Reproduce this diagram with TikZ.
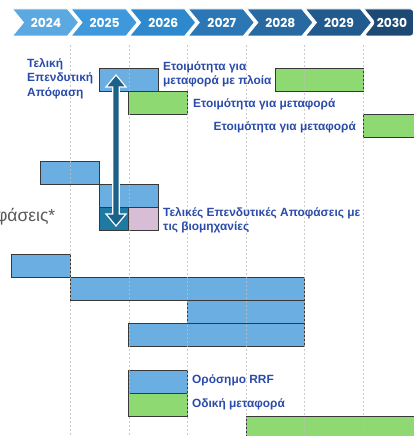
\documentclass[tikz,border=0pt]{standalone}
\usepackage{fontspec}
\setmainfont{Liberation Sans}
\newfontfamily\yearfont{Poppins}
\begin{document}
\begin{tikzpicture}[x=1pt,y=-1pt,
  chev/.style={draw=white,line width=0.8pt},
  year/.style={text=white,font=\yearfont\bfseries\fontsize{12.3}{14}\selectfont,inner sep=0pt},
  bar/.style={draw=black!78,line width=0.9pt,anchor=north west,minimum height=23pt,inner sep=0pt,outer sep=0pt},
  bluebar/.style={bar,fill=barblue},
  greenbar/.style={bar,fill=bargreen},
  lbl/.style={text=lblue,font=\bfseries\fontsize{11.9}{14.5}\selectfont,inner sep=0pt,align=left},
  grid/.style={draw=gray!50,line width=0.6pt,dash pattern=on 2pt off 2pt}
]
\definecolor{barblue}{HTML}{6AAEE2}
\definecolor{bargreen}{HTML}{8FD973}
\definecolor{barpink}{HTML}{D7BDD6}
\definecolor{celldark}{HTML}{1E7AA3}
\definecolor{arrowdark}{HTML}{1B6188}
\definecolor{lblue}{HTML}{2A4BA9}
\definecolor{yA}{HTML}{5CA8E0}
\definecolor{yB}{HTML}{3D98DC}
\definecolor{yC}{HTML}{2E88CC}
\definecolor{yD}{HTML}{2B77B6}
\definecolor{yE}{HTML}{2869A2}
\definecolor{yF}{HTML}{215A8D}
\definecolor{yG}{HTML}{1C4A75}

\useasboundingbox (0,0) rectangle (414,436);
\clip (0,0) rectangle (414,436);

% year chevrons
\foreach \i/\c/\y in {0/yA/2024,1/yB/2025,2/yC/2026,3/yD/2027,4/yE/2028,5/yF/2029}{
  \pgfmathsetmacro{\L}{12.5+58.6*\i}
  \fill[\c,chev] (\L,9) -- ({\L+55},9) -- ({\L+66},22.5) -- ({\L+55},36) -- (\L,36) -- ({\L+11},22.5) -- cycle;
  \node[year] (y\y) at ({\L+33.5},22.5) {\y};
}
\fill[yG,chev,rounded corners=3pt] (364,9) -- (413.5,9) -- (413.5,36) -- (364,36) -- (375,22.5) [sharp corners] -- cycle;
\node[year] (y2030) at (392,22.5) {2030};

% bars
\node[bluebar,minimum width=58.6pt] (b1) at (99.5,68) {};
\node[greenbar,minimum width=87.9pt] (g1) at (275.3,68) {};
\node[greenbar,minimum width=58.6pt] (g2) at (128.8,91) {};
\node[greenbar,minimum width=60pt] (g3) at (363.2,114.5) {};

\node[bluebar,minimum width=58.6pt] (b4) at (40.9,161) {};
\node[bluebar,minimum width=58.6pt] (b5) at (99.5,184) {};
\node[bar,fill=celldark,minimum width=29.3pt] (d6) at (99.5,207) {};
\node[bar,fill=barpink,minimum width=29.3pt] (p6) at (128.8,207) {};

\node[bluebar,minimum width=58.6pt] (b7) at (11.6,254) {};
\node[bluebar,minimum width=234.4pt] (b8) at (70.2,277) {};
\node[bluebar,minimum width=117.2pt] (b9) at (187.4,300) {};
\node[bluebar,minimum width=175.8pt] (b10) at (128.8,323) {};

\node[bluebar,minimum width=58.6pt] (b11) at (128.8,370) {};
\node[greenbar,minimum width=58.6pt] (g12) at (128.8,393) {};
\node[greenbar,minimum width=180pt] (g13) at (246,416) {};

% dashed year grid
\foreach \i in {1,...,6}{
  \pgfmathsetmacro{\X}{11.6+58.6*\i}
  \draw[grid,opacity=0.8] (\X,45) -- (\X,436);
}

% double-headed arrow between the two decision points
\coordinate (at) at (116,75);
\coordinate (ab) at (116,226);
\filldraw[fill=arrowdark,draw=white,line width=1.2pt,line join=miter]
  (at) -- ++(10,12) -- ++(-6.8,0) -- (119.2,214) -- ++(6.8,0) -- (ab)
  -- ++(-10,-12) -- ++(6.8,0) -- (112.8,87) -- ++(-6.8,0) -- cycle;

% labels
\node[lbl,anchor=north west] (tfid) at (27,58) {Τελική\\Επενδυτική\\Απόφαση};
\node[lbl,anchor=west] (tship) at (163,74.5) {Ετοιμότητα για\\μεταφορά με πλοία};
\node[lbl,anchor=west] (tr2) at (193,104.5) {Ετοιμότητα για μεταφορά};
\node[lbl,anchor=east] (tr3) at (356,127.5) {Ετοιμότητα για μεταφορά};
\node[lbl,anchor=west] (tind) at (163,220.5) {Τελικές Επενδυτικές Αποφάσεις με\\τις βιομηχανίες};
\node[lbl,anchor=west] (trrf) at (192,380.5) {Ορόσημο RRF};
\node[lbl,anchor=west] (troad) at (192,404.5) {Οδική μεταφορά};
\node[text=black!65,font=\fontsize{17.5}{20}\selectfont,anchor=east,inner sep=0pt] (tgray) at (55.5,217) {Αποφάσεις*};
\end{tikzpicture}
\end{document}
